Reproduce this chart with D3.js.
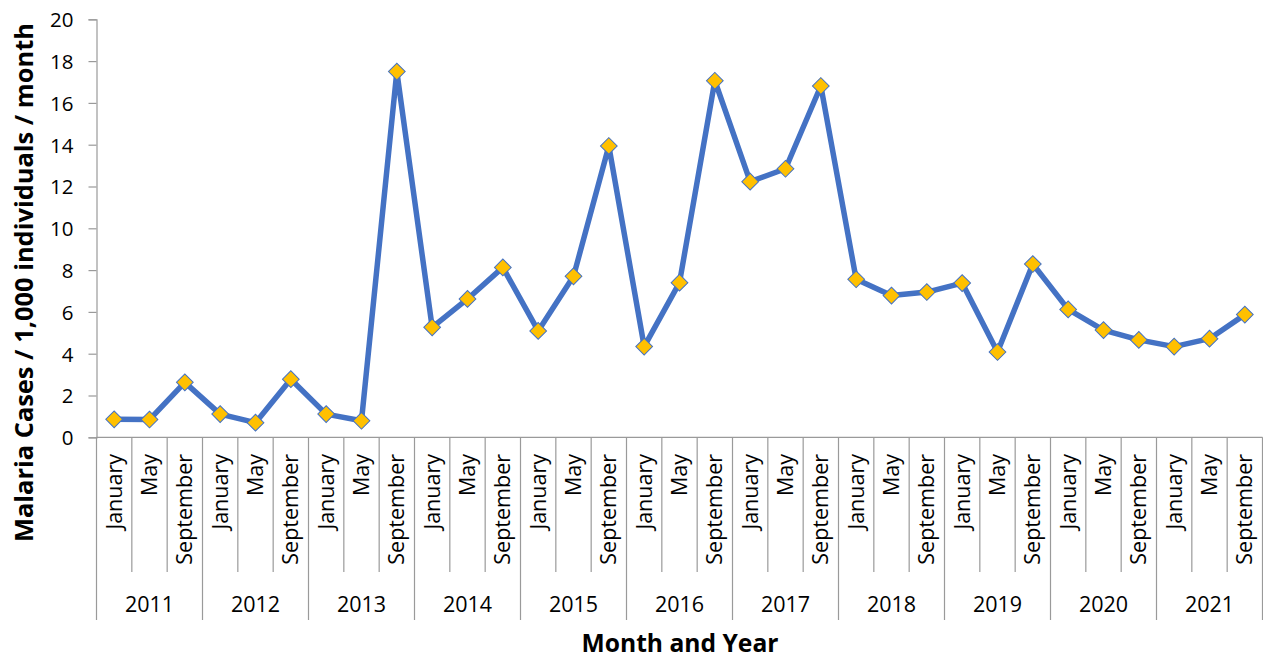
<!DOCTYPE html>
<html>
<head>
<meta charset="utf-8">
<script src="https://cdn.jsdelivr.net/npm/d3@7"></script>
<style>
  html, body { margin: 0; padding: 0; background: #fff; }
  svg { display: block; }
  text { font-family: "Open Sans", "Noto Sans", sans-serif; fill: #000; }
</style>
</head>
<body>
<svg id="chart" width="1263" height="659"></svg>
<script>
const years = ["2011","2012","2013","2014","2015","2016","2017","2018","2019","2020","2021"];
const months = ["January","May","September"];
const cases = [
  0.86, 0.85, 2.63,
  1.11, 0.70, 2.78,
  1.11, 0.79, 17.5,
  5.26, 6.62, 8.13,
  5.09, 7.70, 13.94,
  4.34, 7.40, 17.06,
  12.23, 12.85, 16.81,
  7.56, 6.78, 6.95,
  7.38, 4.08, 8.29,
  6.12, 5.13, 4.66,
  4.34, 4.72, 5.87
];
const yTicks = [0, 2, 4, 6, 8, 10, 12, 14, 16, 18, 20];
const yTitle = "Malaria Cases / 1,000 individuals / month";
const xTitle = "Month and Year";

const data = [];
years.forEach((yr, i) => months.forEach((m, j) => {
  data.push({ key: yr + "-" + m, year: yr, month: m, value: cases[i * 3 + j] });
}));

const svg = d3.select("#chart");
const plotL = 96.5, plotR = 1262.5, plotT = 19.3, plotB = 437.3;
const axisColor = "#9a9a9a";

const x = d3.scaleBand().domain(data.map(d => d.key)).range([plotL, plotR]).padding(0);
const y = d3.scaleLinear().domain([0, 20]).range([plotB, plotT]);

// Y axis
const yAxis = svg.append("g")
  .attr("transform", `translate(${plotL},0)`)
  .call(d3.axisLeft(y).tickValues(yTicks).tickSize(8).tickPadding(15).tickFormat(d3.format("d")));
yAxis.select(".domain").attr("stroke", axisColor).attr("stroke-width", 1.2);
yAxis.selectAll(".tick line").attr("stroke", axisColor).attr("stroke-width", 1.2);
yAxis.selectAll(".tick text")
  .attr("font-family", "Open Sans").attr("font-size", 20.5).attr("fill", "#000")
  .attr("dy", "0.36em");

// X axis baseline
svg.append("line")
  .attr("x1", plotL).attr("x2", plotR).attr("y1", plotB).attr("y2", plotB)
  .attr("stroke", axisColor).attr("stroke-width", 1.2);

// Category separators
const bounds = data.map((d, i) => ({ x: x(d.key), isYear: i % 3 === 0 }));
bounds.push({ x: plotR, isYear: true });
svg.append("g").selectAll("line").data(bounds).join("line")
  .attr("x1", d => d.x).attr("x2", d => d.x)
  .attr("y1", plotB).attr("y2", d => d.isYear ? 620 : 572)
  .attr("stroke", axisColor).attr("stroke-width", 1.2);

// Month labels (rotated)
svg.append("g").selectAll("text").data(data).join("text")
  .attr("transform", d => `translate(${x(d.key) + x.bandwidth() / 2 + 7.5},454) rotate(-90)`)
  .attr("text-anchor", "end")
  .attr("font-size", 21.5)
  .text(d => d.month);

// Year labels
svg.append("g").selectAll("text").data(years).join("text")
  .attr("x", yr => (x(yr + "-January") + x(yr + "-September") + x.bandwidth()) / 2)
  .attr("y", 612)
  .attr("text-anchor", "middle")
  .attr("font-size", 21.5)
  .text(yr => yr);

// Line
svg.append("path").datum(data)
  .attr("fill", "none")
  .attr("stroke", "#4472C4")
  .attr("stroke-width", 5.5)
  .attr("stroke-linejoin", "round")
  .attr("d", d3.line().x(d => x(d.key) + x.bandwidth() / 2).y(d => y(d.value)));

// Markers
svg.append("g").selectAll("path").data(data).join("path")
  .attr("transform", d => `translate(${x(d.key) + x.bandwidth() / 2},${y(d.value)}) rotate(45)`)
  .attr("d", d3.symbol().type(d3.symbolSquare).size(140))
  .attr("fill", "#FFC000")
  .attr("stroke", "#4472C4")
  .attr("stroke-width", 1);

// Fit helper
function fit(sel, target) {
  const fs = +sel.attr("font-size");
  const w = sel.node().getComputedTextLength();
  sel.attr("font-size", fs * target / w);
}

// Y title
const yt = svg.append("text")
  .attr("transform", "translate(33,282.5) rotate(-90)")
  .attr("text-anchor", "middle")
  .attr("font-weight", "bold")
  .attr("font-size", 24)
  .text(yTitle);
fit(yt, 519);

// X title
const xt = svg.append("text")
  .attr("x", 680).attr("y", 651.5)
  .attr("text-anchor", "middle")
  .attr("font-weight", "bold")
  .attr("font-size", 24)
  .text(xTitle);
fit(xt, 197);
</script>
</body>
</html>
